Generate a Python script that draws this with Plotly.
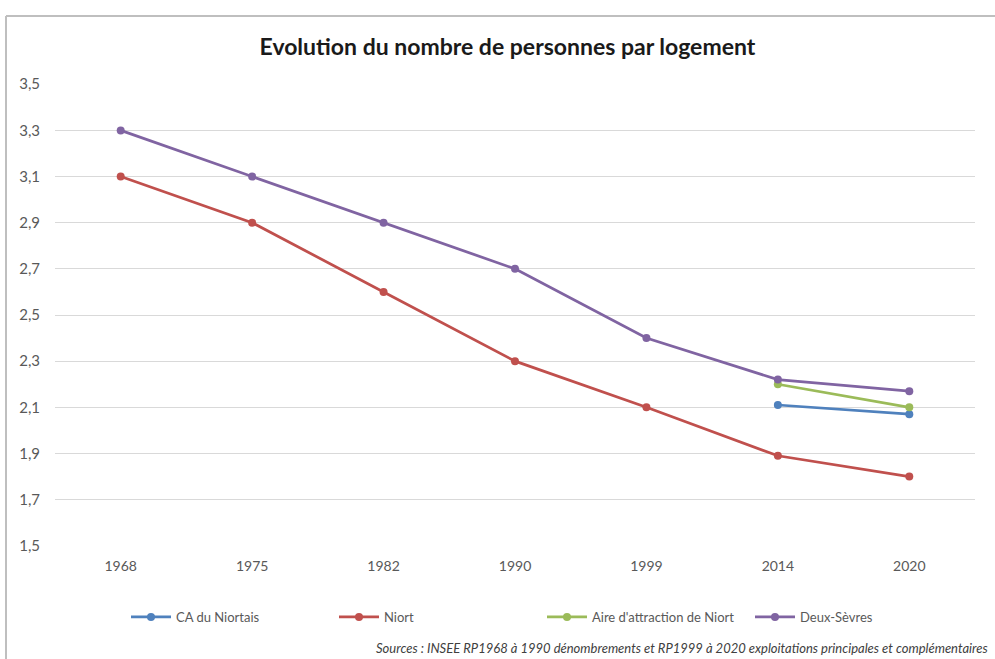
import plotly.graph_objects as go

years = ["1968", "1975", "1982", "1990", "1999", "2014", "2020"]
ca_niortais = [None, None, None, None, None, 2.11, 2.07]
niort = [3.1, 2.9, 2.6, 2.3, 2.1, 1.89, 1.80]
aire_attraction = [None, None, None, None, None, 2.20, 2.10]
deux_sevres = [3.3, 3.1, 2.9, 2.7, 2.4, 2.22, 2.17]
y_ticks = [1.5, 1.7, 1.9, 2.1, 2.3, 2.5, 2.7, 2.9, 3.1, 3.3, 3.5]
y_tick_labels = ["1,5", "1,7", "1,9", "2,1", "2,3", "2,5", "2,7", "2,9", "3,1", "3,3", "3,5"]

series = [
    ("CA du Niortais", ca_niortais, "#4F81BD"),
    ("Niort", niort, "#C0504D"),
    ("Aire d'attraction de Niort", aire_attraction, "#9BBB59"),
    ("Deux-Sèvres", deux_sevres, "#8064A2"),
]

fig = go.Figure()
for name, vals, col in series:
    fig.add_trace(go.Scatter(
        x=years, y=vals, name=name, mode="lines+markers",
        line=dict(color=col, width=2.75),
        marker=dict(color=col, size=8, symbol="circle"),
        connectgaps=False,
    ))

font_family = "Lato, 'Open Sans', sans-serif"
fig.update_layout(
    width=995, height=659,
    margin=dict(l=55, r=20, t=84, b=113, autoexpand=False),
    paper_bgcolor="white", plot_bgcolor="white",
    font=dict(family=font_family, size=13, color="#595959"),
    title=dict(text="<b>Evolution du nombre de personnes par logement</b>",
               x=0.51, xanchor="center", y=1 - 47 / 659, yanchor="middle",
               font=dict(family=font_family, size=23, color="#1a1a1a")),
    showlegend=True,
    legend=dict(orientation="h", x=(126 - 55) / 920, xanchor="left",
                y=-(617 - 546) / 462, yanchor="middle",
                font=dict(size=13, color="#595959"), entrywidth=153, itemwidth=40,
                traceorder="normal"),
    xaxis=dict(type="category", showgrid=False, showline=False, ticks="",
               tickfont=dict(size=14, color="#595959"), range=[-0.5, 6.5],
               ticklabelstandoff=10, automargin=False),
    yaxis=dict(range=[1.499, 3.501], tickvals=y_ticks, ticktext=y_tick_labels,
               showgrid=True, gridcolor="#D9D9D9", gridwidth=1, zeroline=False,
               showline=False, ticks="", ticklabelstandoff=14, automargin=False,
               tickfont=dict(size=15, color="#595959")),
    annotations=[dict(
        text="<i>Sources : INSEE RP1968 à 1990 dénombrements et RP1999 à 2020 exploitations principales et complémentaires</i>",
        xref="paper", yref="paper", x=(990 - 55) / 920, y=-(648 - 546) / 462,
        xanchor="right", yanchor="middle", showarrow=False,
        font=dict(size=13, color="#404040"))],
    shapes=[
        dict(type="line", xref="paper", yref="paper",
             x0=(6 - 55) / 920, x1=(1000 - 55) / 920,
             y0=(546 - 16) / 462, y1=(546 - 16) / 462,
             line=dict(color="#BFBFBF", width=2)),
        dict(type="line", xref="paper", yref="paper",
             x0=(6 - 55) / 920, x1=(6 - 55) / 920,
             y0=(546 - 16) / 462, y1=(546 - 665) / 462,
             line=dict(color="#BFBFBF", width=2)),
    ],
)

fig.write_html("out.html", config={"displayModeBar": False},
               post_script="document.body.style.margin='0';")
